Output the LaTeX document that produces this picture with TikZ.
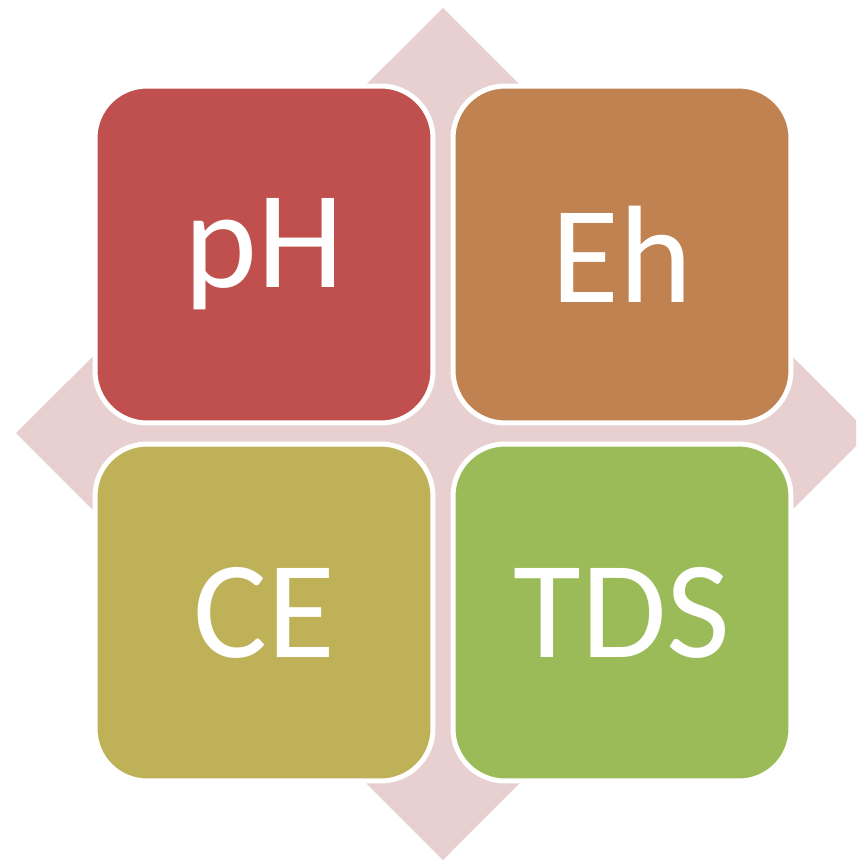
\documentclass[tikz,border=0pt]{standalone}
\usepackage{fontspec}
\setmainfont{Carlito}
\usetikzlibrary{positioning}

\definecolor{diamondpink}{HTML}{E8D0D1}
\definecolor{phred}{HTML}{C0504D}
\definecolor{ehbrown}{HTML}{BF8250}
\definecolor{ceolive}{HTML}{BFB157}
\definecolor{tdsgreen}{HTML}{9BBB59}

\tikzset{
  tile/.style={rectangle, rounded corners=1.04cm, draw=white, line width=0.1cm,
    minimum width=6.76cm, minimum height=6.74cm, text=white,
    font=\fontsize{79}{84}\selectfont},
}

\begin{document}
\begin{tikzpicture}[x=0.02cm,y=-0.02cm]
    \useasboundingbox (0,0) rectangle (856,861);
    \clip (0,0) rectangle (856,861);
    \fill[diamondpink] (443,8) -- (869,433) -- (443,860) -- (16,433) -- cycle;
    \node[tile, fill=phred]    (ph)  at (264,254.5) {pH};
    \node[tile, fill=ehbrown]  (eh)  at (622,254.5) {Eh};
    \node[tile, fill=ceolive]  (ce)  at (264,612.5) {CE};
    \node[tile, fill=tdsgreen] (tds) at (622,612.5) {TDS};
\end{tikzpicture}
\end{document}
